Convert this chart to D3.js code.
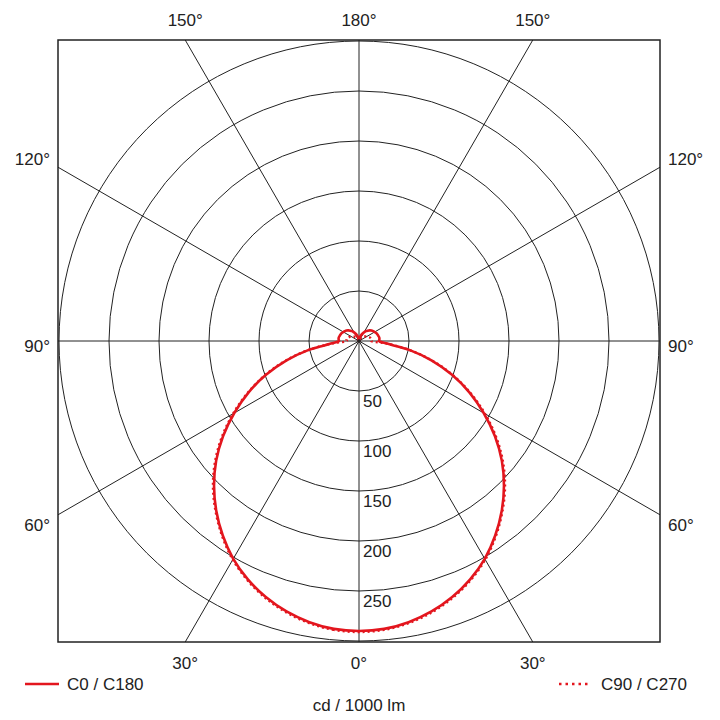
<!DOCTYPE html>
<html><head><meta charset="utf-8">
<script src="https://cdn.jsdelivr.net/npm/d3@7/dist/d3.min.js"></script>
<style>html,body{margin:0;padding:0;background:#fff;}svg{display:block;}</style>
</head><body>
<svg id="chart" width="720" height="720"></svg>
<script>
// ---- data ----
const gammaAngles = [0,5,10,15,20,25,30,35,40,45,50,55,60,65,70,75,80,85,90,95,100,105,110,115,120,125,130,135,140,145,150,155,160,165,170,175,180];
const c0c180 = [290,289,285.5,280,272.5,263,251.5,237.5,222,205,186.5,166,144,122,99,75,51,27,20,20.5,20.5,20,19.5,19,18,17.2,16.3,15,13.5,12,10,8,6,4,2.5,1,0];
const c90c270 = [291,290,286.5,281,273.5,264,252.5,238.5,223,206.5,188,167.5,145.5,123,100,76,51,26,12,12.5,12.5,12,11,10,9,8,7,6,5,4,3,2.5,2,1.5,1,0.5,0];
const ringValues = [50,100,150,200,250,300];
const ringLabels = ["50","100","150","200","250"];
const topTicks = [150,180,150];
const bottomTicks = [30,0,30];
const sideTicks = [120,90,60];
const seriesNames = ["C0 / C180","C90 / C270"];
const unitLabel = "cd / 1000 lm";

// ---- layout ----
const svg = d3.select("#chart");
const cx = 359, cy = 341, half = 301;
const red = "#e3161e", ink = "#222";
const font = "'Liberation Sans', Arial, Helvetica, sans-serif";
const r = d3.scaleLinear().domain([0,300]).range([0,300]);
const g = svg.append("g").attr("transform", `translate(${cx},${cy})`);

// rings
g.selectAll("circle.ring").data(ringValues).join("circle")
  .attr("class","ring").attr("r", d => r(d))
  .attr("fill","none").attr("stroke",ink).attr("stroke-width",1);

// spokes every 30 degrees, to the box edge
const spokeAngles = d3.range(0,360,30);
g.selectAll("line.spoke").data(spokeAngles).join("line")
  .attr("class","spoke")
  .attr("x1",0).attr("y1",0)
  .attr("x2", d => { const a=d*Math.PI/180, s=Math.sin(a), c=Math.cos(a); const L=half/Math.max(Math.abs(s),Math.abs(c)); return L*s; })
  .attr("y2", d => { const a=d*Math.PI/180, s=Math.sin(a), c=Math.cos(a); const L=half/Math.max(Math.abs(s),Math.abs(c)); return L*c; })
  .attr("stroke",ink).attr("stroke-width",1);

// box
svg.append("rect").attr("x",cx-half).attr("y",cy-half).attr("width",2*half).attr("height",2*half)
  .attr("fill","none").attr("stroke",ink).attr("stroke-width",1.5);

// curves (gamma 0 points down; left half = C0, right half = C180)
function closedPoints(vals){
  const pts = [];
  gammaAngles.forEach((a,i)=>pts.push([Math.PI + a*Math.PI/180, r(vals[i])]));
  for(let i=gammaAngles.length-2;i>=1;i--) pts.push([Math.PI - gammaAngles[i]*Math.PI/180, r(vals[i])]);
  return pts;
}
const radial = d3.lineRadial().angle(d=>d[0]).radius(d=>d[1]).curve(d3.curveCatmullRomClosed.alpha(0.5));
g.append("path").attr("d", radial(closedPoints(c0c180)))
  .attr("fill","none").attr("stroke",red).attr("stroke-width",2.6);
g.append("path").attr("d", radial(closedPoints(c90c270)))
  .attr("fill","none").attr("stroke",red).attr("stroke-width",2.4).attr("stroke-dasharray","2,3");

g.append("circle").attr("r",1.8).attr("fill",ink);

// ring labels
g.selectAll("text.rl").data(ringLabels).join("text")
  .attr("class","rl").attr("x",4).attr("y", d => r(+d)+16)
  .attr("font-family",font).attr("font-size",17).attr("fill",ink).text(d=>d);

// angle labels
const txt = (x,y,t,anchor) => svg.append("text").attr("x",x).attr("y",y).attr("text-anchor",anchor)
  .attr("font-family",font).attr("font-size",17).attr("fill",ink).text(t);
[-1,0,1].forEach((s,i)=>{
  const a = topTicks[i]*Math.PI/180;
  txt(cx + s*half*Math.abs(Math.tan(Math.PI-a)), cy-half-14, topTicks[i]+"°", "middle");
  const b = bottomTicks[i]*Math.PI/180;
  txt(cx + s*half*Math.tan(b), cy+half+27, bottomTicks[i]+"°", "middle");
});
const sideShift = {120:-2, 90:11, 60:16.5};
sideTicks.forEach(t=>{
  const a = t*Math.PI/180;
  const y = cy + half*Math.cos(a)/Math.sin(a) + sideShift[t];
  txt(cx-half-8, y, t+"°", "end");
  txt(cx+half+8, y, t+"°", "start");
});

// legend
svg.append("line").attr("x1",25).attr("x2",59).attr("y1",684).attr("y2",684).attr("stroke",red).attr("stroke-width",2.4);
txt(67,690,seriesNames[0],"start");
svg.append("line").attr("x1",559).attr("x2",591).attr("y1",684).attr("y2",684).attr("stroke",red).attr("stroke-width",2.4).attr("stroke-dasharray","2.5,4");
txt(601,690,seriesNames[1],"start");
txt(cx,711,unitLabel,"middle");
</script>
</body></html>
